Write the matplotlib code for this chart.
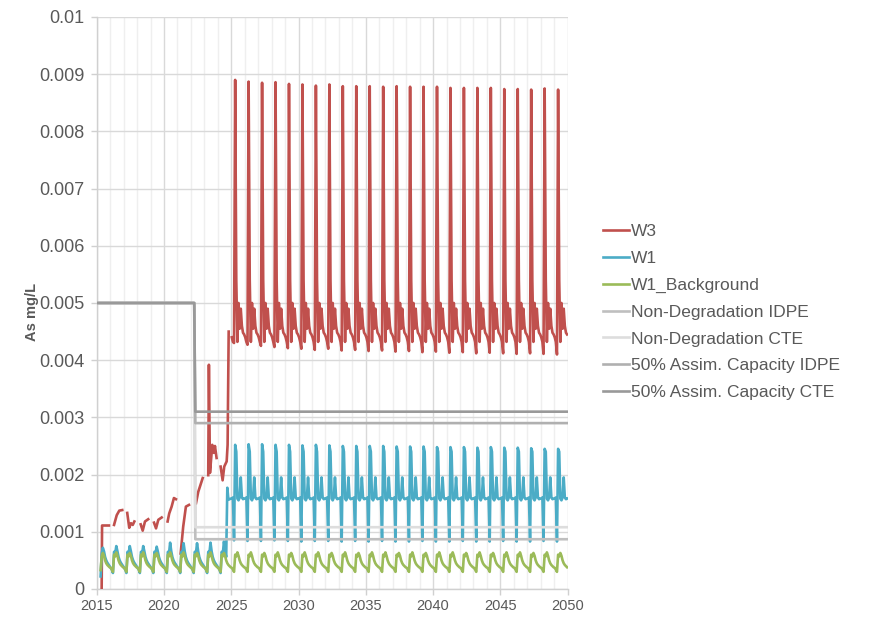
import numpy as np
import matplotlib
matplotlib.use("Agg")
import matplotlib.pyplot as plt
from matplotlib.ticker import FixedLocator, MultipleLocator

plt.rcParams['font.family'] = ['Liberation Sans', 'DejaVu Sans']

# ---------------------------------------------------------------- data
nan = np.nan

# W3 observed record 2015-2024 (decimal years, mg/L); gaps are missing samples
w3_early_t = [2015.37, 2015.40, 2015.91, nan,
              2016.29, 2016.49, 2016.68, 2016.90, nan,
              2017.27, 2017.42, 2017.55, 2017.68, 2017.80, nan,
              2018.27, 2018.42, 2018.59, 2018.83, nan,
              2019.26, 2019.41, 2019.58, 2019.83, nan,
              2020.27, 2020.39, 2020.57, 2020.74, 2020.89, nan,
              2021.24, 2021.43, 2021.63, 2021.86, nan,
              2022.38, 2022.55, 2022.88, nan,
              2023.29, 2023.34, 2023.42, 2023.59, 2023.71, 2023.79, 2023.91, nan,
              2024.21, 2024.36, 2024.48, 2024.66, 2024.73, 2024.81]
w3_early_v = [0.0, 0.00111, 0.00111, nan,
              0.00112, 0.00129, 0.00137, 0.00138, nan,
              0.00133, 0.00107, 0.00115, 0.00112, 0.00118, nan,
              0.00113, 0.00102, 0.00118, 0.00122, nan,
              0.00116, 0.00106, 0.00121, 0.00125, nan,
              0.00118, 0.00132, 0.00144, 0.00159, 0.00157, nan,
              0.00062, 0.00109, 0.00144, 0.00147, nan,
              0.00150, 0.00170, 0.00194, nan,
              0.00199, 0.00392, 0.00203, 0.00252, 0.00238, 0.00250, 0.00229, nan,
              0.00214, 0.00190, 0.00214, 0.00223, 0.00252, 0.00450]

# Predicted years (2025-2049): monthly shape (Jan..Dec), Mar = low, Apr = peak
pred_years = list(range(2025, 2050))
w3_month_shape = [0.00440, 0.00432, None, None, 0.00540, 0.00432,
                  0.00500, 0.00455, 0.00490, 0.00460, 0.00448, 0.00445]
w3_peak = [0.00890, 0.00887, 0.00885, 0.00886, 0.00883, 0.00882, 0.00880,
           0.00882, 0.00879, 0.00879, 0.00879, 0.00878, 0.00879, 0.00878,
           0.00878, 0.00878, 0.00876, 0.00876, 0.00876, 0.00876, 0.00874,
           0.00874, 0.00873, 0.00875, 0.00873]
w3_low = [0.00430, 0.00427, 0.00425, 0.00423, 0.00421, 0.00420, 0.00418,
          0.00420, 0.00417, 0.00418, 0.00416, 0.00417, 0.00415, 0.00416,
          0.00414, 0.00415, 0.00413, 0.00414, 0.00412, 0.00413, 0.00412,
          0.00411, 0.00412, 0.00411, 0.00410]

# W1 observed years 2015-2024 (Jan..Dec shape, Jun = annual peak)
w1_early_years = list(range(2015, 2025))
w1_early_shape = [0.00037, 0.00034, 0.00028, 0.00065, 0.00062, None,
                  0.00066, 0.00056, 0.00050, 0.00046, 0.00043, 0.00040]
w1_early_peak = [0.00072, 0.00075, 0.00075, 0.00075, 0.00074,
                 0.00081, 0.00080, 0.00080, 0.00081, 0.00083]
w1_start = 0.00022          # first sample, Apr 2015
w1_step = 0.00177           # Sep 2024, start of predicted record

# W1 predicted years: Mar = dip, Apr = peak, Sep = secondary bump
w1_month_shape = [0.00158, 0.00160, None, None, 0.00240, 0.00158,
                  0.00155, 0.00160, 0.00195, 0.00160, 0.00157, 0.00158]
w1_peak = [0.00252, 0.00253, 0.00253, 0.00252, 0.00252, 0.00251, 0.00252,
           0.00251, 0.00250, 0.00250, 0.00250, 0.00250, 0.00249, 0.00249,
           0.00249, 0.00248, 0.00248, 0.00248, 0.00247, 0.00248, 0.00247,
           0.00247, 0.00246, 0.00245, 0.00245]
w1_dip = [0.00085, 0.00084, 0.00084, 0.00085, 0.00084, 0.00083, 0.00084,
          0.00084, 0.00083, 0.00084, 0.00083, 0.00084, 0.00083, 0.00083,
          0.00084, 0.00083, 0.00083, 0.00084, 0.00083, 0.00083, 0.00084,
          0.00083, 0.00083, 0.00084, 0.00083]

# W1_Background 2015-2049 (Jan..Dec shape, Jun = annual peak)
bg_years = list(range(2015, 2050))
bg_month_shape = [0.00037, 0.00034, 0.00030, 0.00060, 0.00057, None,
                  0.00058, 0.00050, 0.00045, 0.00042, 0.00040, 0.00038]
bg_peak = [0.00063, 0.00064, 0.00063, 0.00064, 0.00063, 0.00064, 0.00064,
           0.00063, 0.00064, 0.00063, 0.00064, 0.00064, 0.00063, 0.00064,
           0.00063, 0.00064, 0.00064, 0.00063, 0.00064, 0.00063, 0.00064,
           0.00064, 0.00063, 0.00064, 0.00063, 0.00064, 0.00064, 0.00063,
           0.00064, 0.00063, 0.00064, 0.00064, 0.00063, 0.00064, 0.00063]
bg_start = 0.00033          # first sample, Apr 2015

# Water quality criteria (step change in 2022)
crit_t = [2015.0, 2022.25, 2022.33, 2050.0]
nondeg_idpe = [0.005, 0.005, 0.00087, 0.00087]
nondeg_cte = [0.005, 0.005, 0.00108, 0.00108]
assim_idpe = [0.005, 0.005, 0.0029, 0.0029]
assim_cte = [0.005, 0.005, 0.0031, 0.0031]

x_ticks = [2015, 2020, 2025, 2030, 2035, 2040, 2045, 2050]
y_ticks = [0, 0.001, 0.002, 0.003, 0.004, 0.005, 0.006, 0.007, 0.008, 0.009, 0.01]
y_tick_labels = ['0', '0.001', '0.002', '0.003', '0.004', '0.005',
                 '0.006', '0.007', '0.008', '0.009', '0.01']


# ------------------------------------------------------- build monthly
def month_time(year, m):
    return year + (m + 0.5) / 12.0


def monthly(years, shape, fills, first=None, last=None):
    """Expand per-year monthly values; `fills` maps month index -> per-year list."""
    t, v = [], []
    for i, y in enumerate(years):
        for m in range(12):
            if first is not None and (y, m) < first:
                continue
            if last is not None and (y, m) > last:
                continue
            val = fills[m][i] if m in fills else shape[m]
            t.append(month_time(y, m))
            v.append(val)
    return t, v


# W3
t_a, v_a = monthly(pred_years, w3_month_shape, {2: w3_low, 3: w3_peak})
w3_t = w3_early_t + [nan] + t_a
w3_v = w3_early_v + [nan] + v_a

# W1
t_e, v_e = monthly(w1_early_years, w1_early_shape, {5: w1_early_peak},
                   first=(2015, 3), last=(2024, 7))
v_e[0] = w1_start
t_l, v_l = monthly(pred_years, w1_month_shape, {2: w1_dip, 3: w1_peak})
w1_t = t_e + [month_time(2024, m) for m in range(8, 12)] + t_l
w1_v = v_e + [w1_step, 0.00156, 0.00157, 0.00158] + v_l

# Background
bg_t, bg_v = monthly(bg_years, bg_month_shape, {5: bg_peak}, first=(2015, 3))
bg_v[0] = bg_start

# ------------------------------------------------------------- figure
fig = plt.figure(figsize=(8.71, 6.24), dpi=100)
ax = fig.add_axes([0.111, 0.0561, 0.5407, 0.9167])

lw = 1.9
ax.plot(w3_t, w3_v, color='#C0504D', lw=lw, label='W3', zorder=3)
ax.plot(w1_t, w1_v, color='#4BACC6', lw=lw, label='W1', zorder=4)
ax.plot(bg_t, bg_v, color='#9BBB59', lw=lw, label='W1_Background', zorder=5)
ax.plot(crit_t, nondeg_idpe, color='#BFBFBF', lw=lw,
        label='Non-Degradation IDPE', zorder=6)
ax.plot(crit_t, nondeg_cte, color='#DDDDDD', lw=lw,
        label='Non-Degradation CTE', zorder=7)
ax.plot(crit_t, assim_idpe, color='#B0B0B0', lw=lw,
        label='50% Assim. Capacity IDPE', zorder=8)
ax.plot(crit_t, assim_cte, color='#999999', lw=lw,
        label='50% Assim. Capacity CTE', zorder=9)

ax.set_xlim(2015, 2050)
ax.set_ylim(0, 0.01)

ax.xaxis.set_major_locator(FixedLocator(x_ticks))
ax.xaxis.set_minor_locator(MultipleLocator(1))
ax.yaxis.set_major_locator(FixedLocator(y_ticks))
ax.set_yticklabels(y_tick_labels)
ax.set_xticklabels([str(x) for x in x_ticks])

ax.grid(which='major', axis='both', color='#D9D9D9', lw=1.0, zorder=0)
ax.grid(which='minor', axis='x', color='#EFEFEF', lw=1.0, zorder=0)
ax.set_axisbelow(True)

for side in ('top', 'right'):
    ax.spines[side].set_visible(False)
for side in ('left', 'bottom'):
    ax.spines[side].set_color('#D0D0D0')
    ax.spines[side].set_linewidth(1.0)

ax.tick_params(axis='y', which='major', labelsize=13, colors='#D0D0D0',
               labelcolor='#595959', length=4, width=1, pad=5)
ax.tick_params(axis='x', which='major', labelsize=10.5, colors='#D0D0D0',
               labelcolor='#595959', length=4, width=1, pad=3)
ax.tick_params(axis='x', which='minor', length=0)

ax.set_ylabel('As mg/L', fontsize=10.5, fontweight='bold', color='#595959')
ax.yaxis.set_label_coords(-0.122, 0.484)

leg = ax.legend(loc='center left', bbox_to_anchor=(1.075, 0.484),
                frameon=False, fontsize=12.5, handlelength=1.5,
                handletextpad=0.1, labelspacing=0.67, borderpad=0,
                borderaxespad=0)
for txt in leg.get_texts():
    txt.set_color('#595959')

fig.savefig('out.png', dpi=100)
